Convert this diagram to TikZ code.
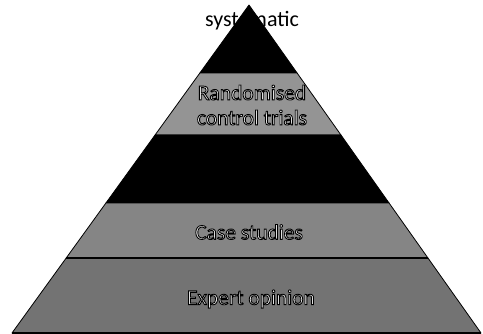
\documentclass[tikz,border=0pt]{standalone}
\usepackage{fontspec}
\setmainfont{Carlito}
\usetikzlibrary{calc}
\newcommand\outl[1]{\special{pdf:literal 0 G 0.9 w 2 Tr}#1\special{pdf:literal 0 Tr}}
\tikzset{
  band/.style={draw=black, line width=0.8pt, line join=round},
  lbl/.style={inner sep=0pt, align=center, text=white, font=\fontsize{21.5}{25}\selectfont},
}
\begin{document}
\begin{tikzpicture}[x=1pt,y=-1pt]
\useasboundingbox (0,0) rectangle (483,333);
\coordinate (A) at (249,5);
\coordinate (BL) at (12,333);
\coordinate (BR) at (481,333);
% band edges
\coordinate (L1) at ($(A)!0.2073!(BL)$); \coordinate (R1) at ($(A)!0.2073!(BR)$);
\coordinate (L2) at ($(A)!0.3963!(BL)$); \coordinate (R2) at ($(A)!0.3963!(BR)$);
\coordinate (L3) at ($(A)!0.6037!(BL)$); \coordinate (R3) at ($(A)!0.6037!(BR)$);
\coordinate (L4) at ($(A)!0.7713!(BL)$); \coordinate (R4) at ($(A)!0.7713!(BR)$);
% bands
\fill[band, fill=black] (A) -- (R1) -- (L1) -- cycle;
\fill[band, fill=black!42] (L1) -- (R1) -- (R2) -- (L2) -- cycle;
\filldraw[band, fill=black] (L2) -- (R2) -- (R3) -- (L3) -- cycle;
\filldraw[band, fill=black!48] (L3) -- (R3) -- (R4) -- (L4) -- cycle;
\filldraw[band, fill=black!55] (L4) -- (R4) -- (BR) -- (BL) -- cycle;
\draw[band, line width=1.2pt] (L4) -- (R4);
\draw[band, line width=1.2pt] (BL) -- (BR);
% labels
\node[inner sep=0pt, text=black, font=\fontsize{22}{25}\selectfont] (sys) at (252,21) {systematic};
\node[lbl] (rct) at (252,105) {\outl{Randomised}\\\outl{control trials}};
\node[lbl] (case) at (249,232) {\outl{Case studies}};
\node[lbl] (expert) at (251,299) {\outl{Expert opinion}};
\end{tikzpicture}
\end{document}
